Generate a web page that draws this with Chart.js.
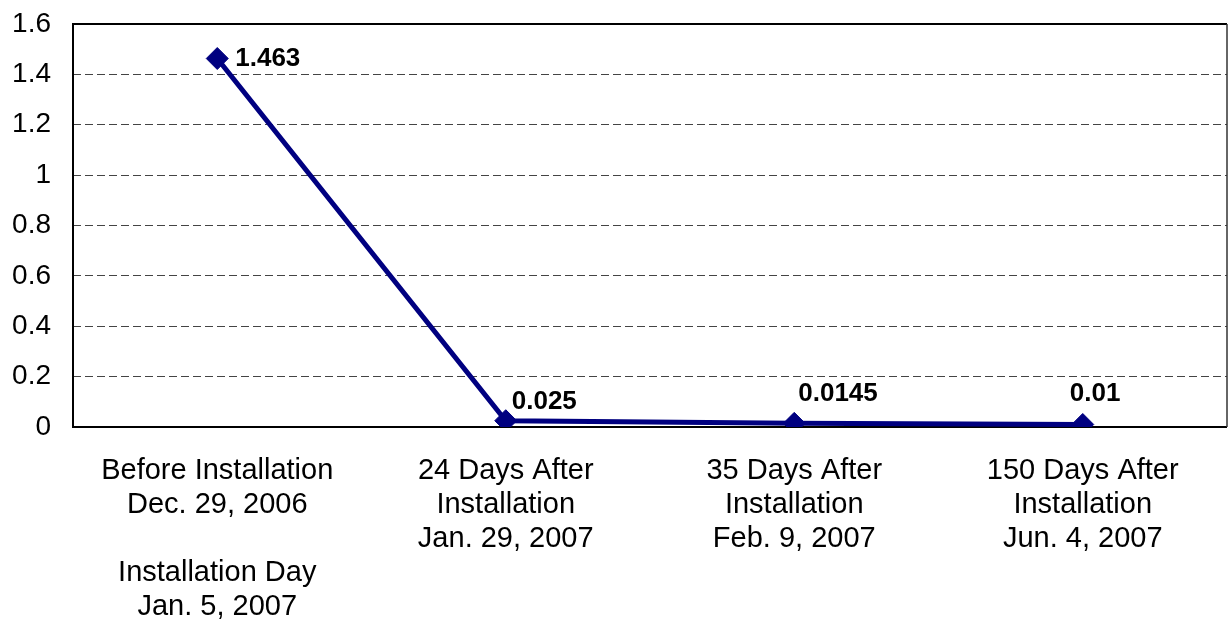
<!DOCTYPE html>
<html>
<head>
<meta charset="utf-8">
<script src="https://cdn.jsdelivr.net/npm/chart.js@4/dist/chart.umd.min.js"></script>
<style>
  html, body { margin: 0; padding: 0; background: #fff; overflow: hidden; }
  #wrap { width: 1228px; height: 619px; }
</style>
</head>
<body>
<div id="wrap"><canvas id="mainChart" width="1228" height="619"></canvas></div>
<script>
// Chart data
const categories = [
    ['Before Installation', 'Dec. 29, 2006', '', 'Installation Day', 'Jan. 5, 2007'],
    ['24 Days After', 'Installation', 'Jan. 29, 2007'],
    ['35 Days After', 'Installation', 'Feb. 9, 2007'],
    ['150 Days After', 'Installation', 'Jun. 4, 2007']
];
const values = [1.463, 0.025, 0.0145, 0.01];
const yTickValues = [0, 0.2, 0.4, 0.6, 0.8, 1, 1.2, 1.4, 1.6];
const yTickLabels = ['0', '0.2', '0.4', '0.6', '0.8', '1', '1.2', '1.4', '1.6'];

// where each value label sits relative to its point (px)
const labelOffsets = [[18, 0], [6, -19], [4, -30], [-13, -31]];

const FONT = "'Liberation Sans', Arial, sans-serif";

// black frame round the plot area
const framePlugin = {
    id: 'frame',
    beforeDatasetsDraw(chart) {
        const { ctx, chartArea: a } = chart;
        ctx.save();
        ctx.strokeStyle = '#000';
        ctx.lineWidth = 2;
        ctx.beginPath();
        ctx.moveTo(a.right, a.top);
        ctx.lineTo(a.left, a.top);
        ctx.lineTo(a.left, a.bottom);
        ctx.lineTo(a.right, a.bottom);
        ctx.stroke();
        // right edge is a bit lighter
        ctx.strokeStyle = '#333';
        ctx.lineWidth = 1.5;
        ctx.beginPath();
        ctx.moveTo(a.right, a.top);
        ctx.lineTo(a.right, a.bottom);
        ctx.stroke();
        ctx.restore();
    }
};

// bold value labels next to the points
const valueLabels = {
    id: 'valueLabels',
    afterDatasetsDraw(chart) {
        const { ctx } = chart;
        const meta = chart.getDatasetMeta(0);
        ctx.save();
        ctx.font = 'bold 26px ' + FONT;
        ctx.fillStyle = '#000';
        ctx.textAlign = 'left';
        ctx.textBaseline = 'middle';
        meta.data.forEach((pt, i) => {
            const off = labelOffsets[i];
            ctx.fillText(String(values[i]), pt.x + off[0], pt.y + off[1]);
        });
        ctx.restore();
    }
};

Chart.defaults.font.family = FONT;
Chart.defaults.color = '#000';

new Chart(document.getElementById('mainChart').getContext('2d'), {
    type: 'line',
    data: {
        labels: categories,
        datasets: [{
            data: values,
            borderColor: '#000080',
            backgroundColor: '#000080',
            borderWidth: 5,
            tension: 0,
            pointStyle: 'rectRot',
            pointRadius: 11,
            pointBackgroundColor: '#000080',
            pointBorderColor: '#000080',
            pointBorderWidth: 1
        }]
    },
    options: {
        responsive: false,
        devicePixelRatio: 1,
        animation: false,
        layout: { autoPadding: false, padding: { top: 24, right: 1, left: 0, bottom: 0 } },
        plugins: {
            legend: { display: false },
            tooltip: { enabled: false }
        },
        scales: {
            x: {
                type: 'category',
                offset: true,
                grid: { display: false, drawTicks: false },
                border: { display: false },
                ticks: {
                    autoSkip: false,
                    maxRotation: 0,
                    padding: 27,
                    color: '#000',
                    font: { size: 29, lineHeight: 1.17 }
                },
                afterFit: (scale) => {
                    scale.height = 192;
                    scale.paddingLeft = 0;
                    scale.paddingRight = 0;
                }
            },
            y: {
                min: 0,
                max: 1.6,
                grid: { color: '#444', lineWidth: 1, drawTicks: false },
                border: { display: false, dash: [8, 4] },
                afterBuildTicks: (scale) => {
                    scale.ticks = yTickValues.map(v => ({ value: v }));
                },
                ticks: {
                    padding: 22,
                    color: '#000',
                    font: { size: 28 },
                    callback: (v) => yTickLabels[yTickValues.indexOf(v)]
                },
                afterFit: (scale) => {
                    scale.width = 73;
                    scale.paddingTop = 0;
                    scale.paddingBottom = 0;
                }
            }
        }
    },
    plugins: [framePlugin, valueLabels]
});
</script>
</body>
</html>
